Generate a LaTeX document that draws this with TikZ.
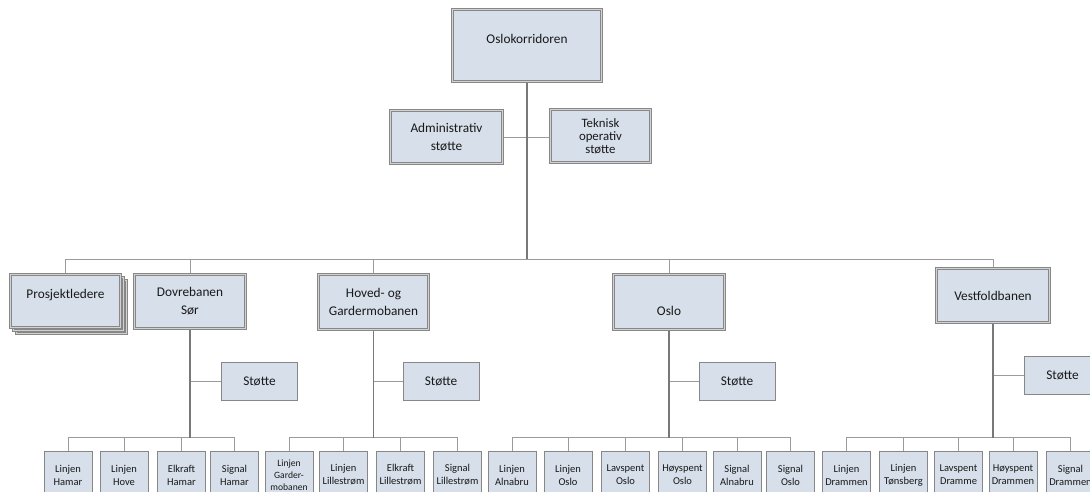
\documentclass[tikz,border=0pt]{standalone}
\usepackage{fontspec}
\setmainfont{Carlito}
\usetikzlibrary{calc}
\pgfdeclarelayer{bg}
\pgfsetlayers{bg,main}
\definecolor{boxfill}{RGB}{214,223,234}
\definecolor{boxline}{RGB}{135,135,135}
\definecolor{gapfill}{RGB}{210,210,210}
\definecolor{linklight}{RGB}{155,155,155}
\definecolor{linkdark}{RGB}{120,120,120}
\definecolor{inktext}{RGB}{25,25,25}

\begin{document}
\begin{tikzpicture}[x=1pt,y=-1pt,
  mainfont/.style={font=\fontsize{13.3}{18}\selectfont, text=inktext},
  box/.style={rectangle, draw=boxline, fill=boxfill, inner sep=0pt, align=center, text=inktext},
  framed/.style={box, mainfont, line width=0.6pt, double=gapfill, double distance=1.6pt},
  supportbox/.style={box, mainfont, line width=0.8pt, minimum width=76.2pt, minimum height=38.2pt},
  leafbox/.style={box, line width=0.8pt, minimum width=48.2pt, minimum height=47.2pt,
                  font=\fontsize{10.5}{13}\selectfont},
  thinlink/.style={draw=linklight, line width=0.9pt},
  spine/.style={draw=linkdark, line width=1.2pt},
  deptlink/.style={draw=linkdark, line width=1.8pt}]

\useasboundingbox (0,0) rectangle (1090,492);
\clip (0,0) rectangle (1090,492);

% bus levels
\coordinate (upbus) at (0,259);
\coordinate (lowbus) at (0,437.5);

% top level and staff functions
\node[framed, minimum width=149.2pt, minimum height=72.2pt,
      label={[mainfont,yshift=6.5pt]center:Oslokorridoren}] (top) at (527,45.5) {};
\node[framed, minimum width=112.2pt, minimum height=53.2pt] (adm) at (446.5,137) {Administrativ\\støtte};
\node[framed, minimum width=100.2pt, minimum height=53.2pt,
      font=\fontsize{12.8}{13}\selectfont, yshift=1pt] (tek) at (600.5,137) {Teknisk\\operativ\\støtte};

% project leaders (stacked)
\node[framed, minimum width=110.2pt, minimum height=53.2pt] (pl3) at (71.5,307) {};
\node[framed, minimum width=110.2pt, minimum height=53.2pt] (pl2) at (68.5,304) {};
\node[framed, minimum width=110.2pt, minimum height=53.2pt,
      label={[mainfont,yshift=6pt]center:Prosjektledere}] (pl) at (65.5,301) {};

% line sections
\node[framed, minimum width=111.2pt, minimum height=54.2pt] (dv) at (190,301.5) {Dovrebanen\\Sør};
\node[framed, minimum width=110.2pt, minimum height=55.2pt] (hv) at (373.5,302) {Hoved- og\\Gardermobanen};
\node[framed, minimum width=111.2pt, minimum height=55.2pt,
      label={[mainfont,yshift=-9pt]center:Oslo}] (os) at (669,302) {};
\node[framed, minimum width=113.2pt, minimum height=54.2pt] (vf) at (993,295.5) {Vestfoldbanen};

% support units
\node[supportbox] (sdv) at (259.5,381.5) {Støtte};
\node[supportbox] (shv) at (441,381.5) {Støtte};
\node[supportbox] (sos) at (737,381.5) {Støtte};
\node[supportbox] (svf) at (1062.5,375.5) {Støtte};

% Dovrebanen Sør units
\node[leafbox] (d1) at (68,475) {Linjen\\Hamar};
\node[leafbox] (d2) at (124,475) {Linjen\\Hove};
\node[leafbox] (d3) at (181.5,475) {Elkraft\\Hamar};
\node[leafbox] (d4) at (234.5,475) {Signal\\Hamar};

% Hoved- og Gardermobanen units
\node[leafbox, font=\fontsize{9.6}{12}\selectfont] (h1) at (289,475) {Linjen\\Garder-\\mobanen};
\node[leafbox] (h2) at (343.5,475) {Linjen\\Lillestrøm};
\node[leafbox] (h3) at (400.5,475) {Elkraft\\Lillestrøm};
\node[leafbox] (h4) at (457.5,475) {Signal\\Lillestrøm};

% Oslo units
\node[leafbox] (o1) at (512,475) {Linjen\\Alnabru};
\node[leafbox] (o2) at (568,475) {Linjen\\Oslo};
\node[leafbox] (o3) at (625.5,475) {Lavspent\\Oslo};
\node[leafbox] (o4) at (682.5,475) {Høyspent\\Oslo};
\node[leafbox] (o5) at (737,475) {Signal\\Alnabru};
\node[leafbox] (o6) at (790.5,475) {Signal\\Oslo};

% Vestfoldbanen units
\node[leafbox] (v1) at (846.5,475) {Linjen\\Drammen};
\node[leafbox] (v2) at (903.5,475) {Linjen\\Tønsberg};
\node[leafbox] (v3) at (958.5,475) {Lavspent\\Dramme};
\node[leafbox] (v4) at (1013,475) {Høyspent\\Drammen};
\node[leafbox] (v5) at (1070.5,475) {Signal\\Drammen};

\begin{pgfonlayer}{bg}
  \fill[white] (0,0) rectangle (1090,492);
  % staff connector and upper bus
  \draw[thinlink] (adm.east) -- (tek.west |- adm.east);
  \draw[thinlink] (pl.north) -- (pl.north |- upbus) -| (vf.north);
  \draw[thinlink] (dv.north) -- (dv.north |- upbus);
  \draw[thinlink] (hv.north) -- (hv.north |- upbus);
  \draw[thinlink] (os.north) -- (os.north |- upbus);
  \draw[spine] (top.south) -- (top.south |- upbus);
  % support connectors
  \draw[thinlink] (sdv.west) -- (sdv.west -| dv.south);
  \draw[thinlink] (shv.west) -- (shv.west -| hv.south);
  \draw[thinlink] (sos.west) -- (sos.west -| os.south);
  \draw[thinlink] (svf.west) -- (svf.west -| vf.south);
  % lower buses
  \draw[thinlink] (d1.north) -- (d1.north |- lowbus) -| (d4.north);
  \draw[thinlink] (d2.north) -- (d2.north |- lowbus);
  \draw[thinlink] (d3.north) -- (d3.north |- lowbus);
  \draw[thinlink] (h1.north) -- (h1.north |- lowbus) -| (h4.north);
  \draw[thinlink] (h2.north) -- (h2.north |- lowbus);
  \draw[thinlink] (h3.north) -- (h3.north |- lowbus);
  \draw[thinlink] (o1.north) -- (o1.north |- lowbus) -| (o6.north);
  \draw[thinlink] (o2.north) -- (o2.north |- lowbus);
  \draw[thinlink] (o3.north) -- (o3.north |- lowbus);
  \draw[thinlink] (o4.north) -- (o4.north |- lowbus);
  \draw[thinlink] (o5.north) -- (o5.north |- lowbus);
  \draw[thinlink] (v1.north) -- (v1.north |- lowbus) -| (v5.north);
  \draw[thinlink] (v2.north) -- (v2.north |- lowbus);
  \draw[thinlink] (v3.north) -- (v3.north |- lowbus);
  \draw[thinlink] (v4.north) -- (v4.north |- lowbus);
  % section spines
  \draw[deptlink] (dv.south) -- (dv.south |- lowbus);
  \draw[deptlink] (hv.south) -- (hv.south |- lowbus);
  \draw[deptlink] (os.south) -- (os.south |- lowbus);
  \draw[deptlink] (vf.south) -- (vf.south |- lowbus);
\end{pgfonlayer}
\end{tikzpicture}
\end{document}
